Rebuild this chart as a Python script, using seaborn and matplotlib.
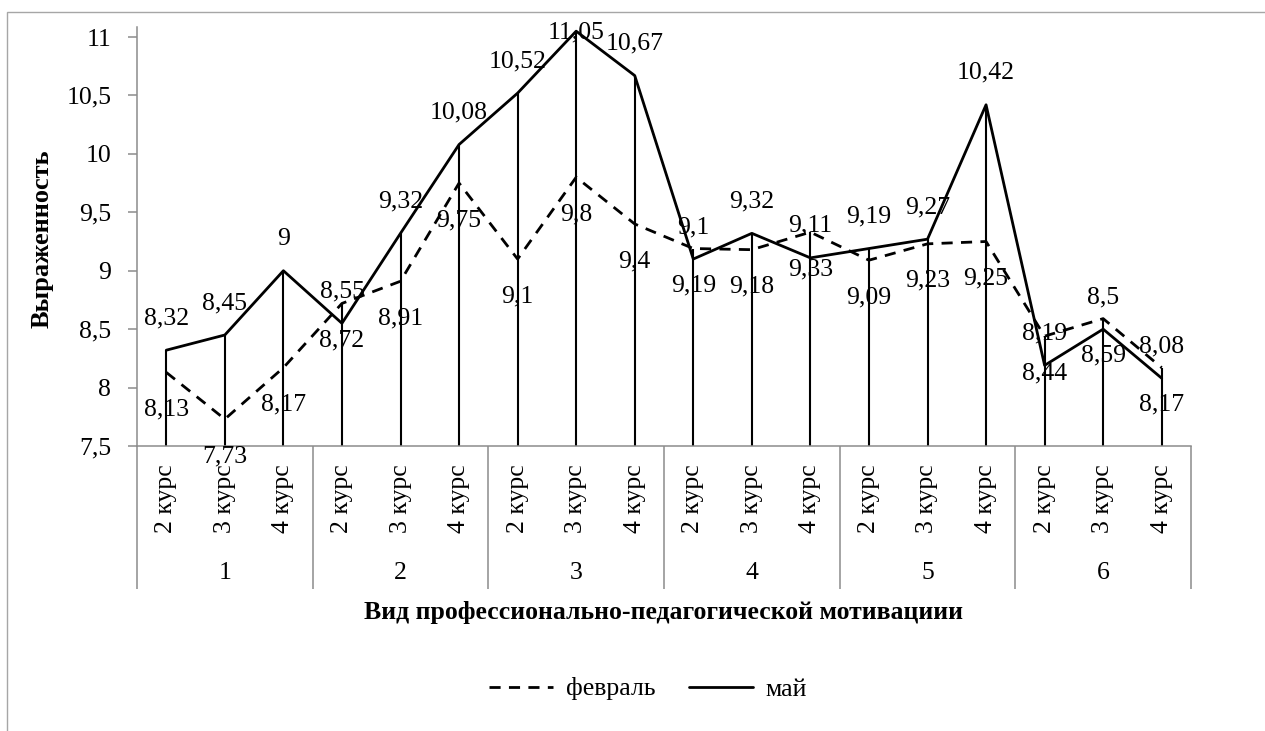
import numpy as np
import pandas as pd
import matplotlib
matplotlib.use("Agg")
import matplotlib.pyplot as plt
import seaborn as sns
from matplotlib.patches import Rectangle
from matplotlib.lines import Line2D
import matplotlib.transforms as mtransforms

# ---- data ----
groups = ["1", "2", "3", "4", "5", "6"]
courses = ["2 курс", "3 курс", "4 курс"]
series_names = ["февраль", "май"]
feb = [8.13, 7.73, 8.17, 8.72, 8.91, 9.75, 9.1, 9.8, 9.4,
       9.19, 9.18, 9.33, 9.09, 9.23, 9.25, 8.44, 8.59, 8.17]
may = [8.32, 8.45, 9, 8.55, 9.32, 10.08, 10.52, 11.05, 10.67,
       9.1, 9.32, 9.11, 9.19, 9.27, 10.42, 8.19, 8.5, 8.08]
y_ticks = [7.5, 8, 8.5, 9, 9.5, 10, 10.5, 11]
y_title = "Выраженность"
x_title = "Вид профессионально-педагогической мотивациии"

sns.set_theme(style="white")
plt.rcParams['font.family'] = ['Liberation Serif', 'DejaVu Serif']
plt.rcParams['text.color'] = 'black'
FS = 18.5
AXC = "#8c8c8c"
DASH = (4, 3)

W, H = 1265, 731
fig = plt.figure(figsize=(W / 100, H / 100), dpi=100)
fig.patch.set_facecolor("white")
ax = fig.add_axes([137 / W, (H - 446) / H, (1191 - 137) / W, (446 - 26.5) / H])

n = len(groups) * len(courses)
xs = np.arange(n)
df = pd.DataFrame({
    "x": np.concatenate([xs, xs]),
    "value": feb + may,
    "series": [series_names[0]] * n + [series_names[1]] * n,
})

sns.lineplot(data=df, x="x", y="value", style="series", style_order=series_names,
             dashes={series_names[0]: DASH, series_names[1]: ""},
             color="black", linewidth=2.0, legend=False, ax=ax, zorder=3)

ax.vlines(xs, y_ticks[0], np.maximum(feb, may), color="black", lw=1.5, zorder=2)

ax.set_xlim(-0.5, n - 0.5)
ax.set_ylim(y_ticks[0], 11.09)

ax.set_yticks(y_ticks)
ax.set_yticklabels([f"{v:g}".replace(".", ",") for v in y_ticks], fontsize=FS, color="black")
ax.tick_params(axis="y", direction="out", length=6.5, width=1.1, color=AXC, pad=12, left=True)

ax.set_xticks(xs)
ax.set_xticklabels(courses * len(groups), rotation=90, fontsize=FS, color="black")
ax.tick_params(axis="x", which="major", length=0, pad=13)
bounds = np.arange(-0.5, n, len(courses))
ax.set_xticks(bounds, minor=True)
ax.tick_params(axis="x", which="minor", direction="out", length=143 * 0.72, width=1.1,
               color=AXC, bottom=True)

for s in ["top", "right"]:
    ax.spines[s].set_visible(False)
for s in ["left", "bottom"]:
    ax.spines[s].set_color(AXC)
    ax.spines[s].set_linewidth(1.1)

ax.set_xlabel("")
ax.set_ylabel("")

# group labels
trans = mtransforms.blended_transform_factory(ax.transData, fig.transFigure)
for gi, g in enumerate(groups):
    ax.text(gi * len(courses) + 1, 1 - 573 / H, g, transform=trans, ha="center",
            va="center", fontsize=FS, color="black")

fig.text((137 + 1191) / 2 / W, 1 - 613 / H, x_title, ha="center", va="center",
         fontsize=FS, fontweight="bold", color="black")
fig.text(42 / W, 1 - 239 / H, y_title, ha="center", va="center", rotation=90,
         fontsize=FS + 0.5, fontweight="bold", color="black")

# data labels
fig.canvas.draw()
for i in xs:
    px, py = ax.transData.transform((i, may[i]))
    target = min(py + 32, H - 32)
    ax.annotate(f"{may[i]:g}".replace(".", ","), (i, may[i]), xytext=(0, (target - py) * 0.72),
                textcoords="offset points", ha="center", va="center", fontsize=FS,
                color="black", annotation_clip=False, zorder=5)
    ax.annotate(f"{feb[i]:g}".replace(".", ","), (i, feb[i]), xytext=(0, -37 * 0.72),
                textcoords="offset points", ha="center", va="center", fontsize=FS,
                color="black", annotation_clip=False, zorder=5)

# legend
handles = [Line2D([], [], color="black", lw=2.0, dashes=DASH),
           Line2D([], [], color="black", lw=2.0)]
leg = fig.legend(handles, series_names, loc="center", bbox_to_anchor=(648 / W, 1 - 689 / H),
                 ncol=2, frameon=False, fontsize=FS, handlelength=2.5, handletextpad=0.5,
                 columnspacing=1.3)
for t in leg.get_texts():
    t.set_color("black")

# outer chart border
fig.patches.append(Rectangle((7 / W, -0.1), 1.2, 1.1 - 12 / H, transform=fig.transFigure,
                             fill=False, edgecolor="#a6a6a6", lw=1.0, zorder=0))

fig.savefig("out.png", dpi=100)
